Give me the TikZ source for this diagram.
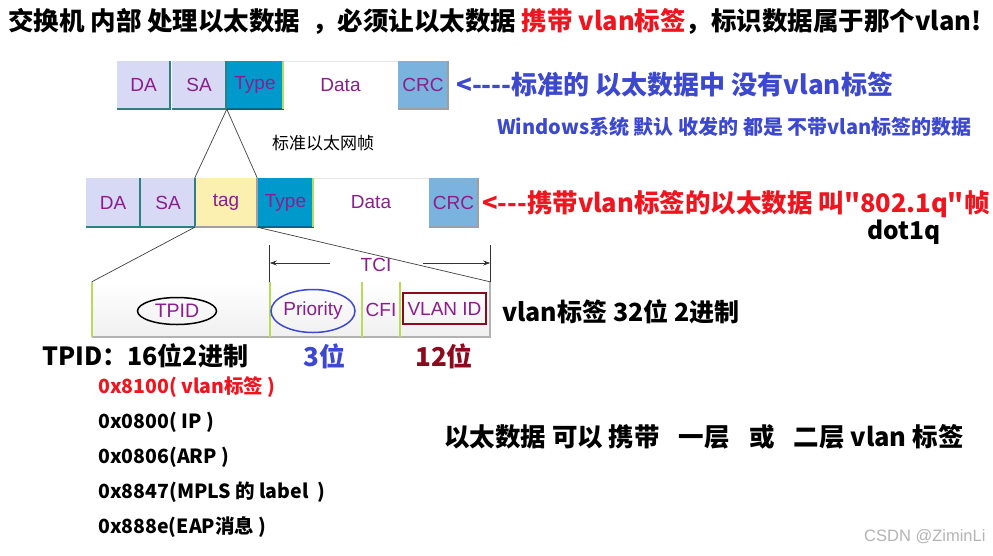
\documentclass[tikz,border=0pt]{standalone}
\usepackage{fontspec}
\setmainfont{Liberation Sans}
\newfontfamily\cjk{Noto Sans CJK SC}
\usetikzlibrary{shapes.geometric,arrows.meta}
\definecolor{lav}{HTML}{D8D9F5}
\definecolor{tealedge}{HTML}{2F8080}
\definecolor{typeblue}{HTML}{0099CC}
\definecolor{typeedge}{HTML}{00668A}
\definecolor{crcblue}{HTML}{7AB4DE}
\definecolor{grayedge}{HTML}{9AA0A6}
\definecolor{tagyel}{HTML}{FBF0B0}
\definecolor{greenedge}{HTML}{B8DC5A}
\definecolor{lblpurple}{HTML}{8B1E8C}
\definecolor{txtblue}{HTML}{3C48D0}
\definecolor{txtred}{HTML}{F0141E}
\definecolor{darkred}{HTML}{8B0A1E}
\definecolor{wmgray}{HTML}{B4B4B4}
\tikzset{
  cell/.style={rectangle, inner sep=0, text=lblpurple, font=\fontsize{19}{22}\selectfont},
  cell3/.style={cell, top color=white, bottom color=black!6, font=\fontsize{19}{22}\selectfont},
  txt/.style={inner sep=0, anchor=west, font=\cjk\bfseries\fontsize{#1}{#1}\selectfont},
  thinline/.style={draw=black!75, line width=0.7},
}
\newcommand\bevel[2]{\draw[#2, line width=2] (#1.south west) -- (#1.south east) -- (#1.north east);}
\newcommand\greenleft[1]{\draw[greenedge, line width=2] (#1.south west) -- (#1.north west);}
\begin{document}
\begin{tikzpicture}[x=1pt,y=-1pt]
\useasboundingbox[fill=white] (0,0) rectangle (993,555);
% title
\node[txt=25.5] (title) at (8,21) {交换机 内部 处理以太数据 \ ，必须让以太数据 \textcolor{txtred}{携带 vlan标签}，标识数据属于那个vlan!};
% row 1
\node[cell, fill=lav, minimum width=53, minimum height=48] (da1) at (143.5,85) {DA};
\node[cell, fill=lav, minimum width=54, minimum height=48] (sa1) at (199,85) {SA};
\node[cell, fill=typeblue, minimum width=56, minimum height=48] (ty1) at (255,85) {Type};
\node[cell, fill=white, minimum width=115, minimum height=48] (dt1) at (340.5,85) {Data};
\node[cell, fill=crcblue, minimum width=50, minimum height=48] (crc1) at (423,85) {CRC};
\bevel{da1}{tealedge}\bevel{sa1}{tealedge}\bevel{ty1}{typeedge}\bevel{crc1}{grayedge}
\draw[black!10] (dt1.north west) -- (dt1.north east);
\greenleft{dt1}
% row 2
\node[cell, fill=lav, minimum width=54, minimum height=49] (da2) at (113,202.5) {DA};
\node[cell, fill=lav, minimum width=54, minimum height=49] (sa2) at (168,202.5) {SA};
\node[cell, fill=tagyel, minimum width=62, minimum height=49] (tag2) at (226,202.5) {tag};
\node[cell, fill=typeblue, minimum width=55, minimum height=49] (ty2) at (285.5,202.5) {Type};
\node[cell, fill=white, minimum width=116, minimum height=49] (dt2) at (371,202.5) {Data};
\node[cell, fill=crcblue, minimum width=49, minimum height=49] (crc2) at (453.5,202.5) {CRC};
\bevel{da2}{tealedge}\bevel{sa2}{tealedge}\bevel{tag2}{grayedge}\bevel{ty2}{typeedge}\bevel{crc2}{grayedge}
\draw[black!10] (dt2.north west) -- (dt2.north east);
\greenleft{dt2}
% connectors row1 -> row2
\draw[thinline] (ty1.south west) -- (tag2.north west);
\draw[thinline] (ty1.south west) -- (tag2.north east);
\node[inner sep=0, font=\cjk\fontsize{17}{17}\selectfont, anchor=west] (stdlbl) at (272,143) {标准以太网帧};
% row 3
\node[cell3, minimum width=178, minimum height=55] (tpid) at (181,309.5) {};
\node[cell3, minimum width=92, minimum height=55] (prio) at (316,309.5) {};
\node[cell3, minimum width=38, minimum height=55] (cfi) at (381,309.5) {CFI};
\node[cell3, minimum width=90, minimum height=55] (vid) at (445,309.5) {};
\foreach \c in {tpid,prio,cfi,vid}{\bevel{\c}{black!30}\greenleft{\c}}
\node[draw=black, line width=1.5, ellipse, inner sep=0, minimum width=79, minimum height=27, text=lblpurple, font=\fontsize{19.5}{22}\selectfont] (tpidl) at (177,311) {TPID};
\node[draw=txtblue, line width=1.5, ellipse, inner sep=0, minimum width=84, minimum height=43, text=lblpurple, font=\fontsize{19}{22}\selectfont] (priol) at (313,311) {Priority};
\node[draw=darkred, line width=2, rectangle, inner sep=0, minimum width=83, minimum height=31, text=lblpurple, font=\fontsize{19}{22}\selectfont] (vidl) at (444.5,308.5) {VLAN ID};
% connectors row2 -> row3
\draw[thinline] (tag2.south west) -- (tpid.north west);
\draw[thinline] (tag2.south east) -- (vid.north east);
% TCI
\coordinate (tciL) at (prio.north west |- 0,245);
\coordinate (tciR) at (vid.north east |- 0,245);
\draw[black!80, line width=0.8] (prio.north west) -- (tciL);
\draw[black!80, line width=0.8] (vid.north east) -- (tciR);
\node[inner sep=0, text=lblpurple, font=\fontsize{19}{22}\selectfont] (tci) at (376,265) {TCI};
\coordinate (tcia) at (330,263);
\coordinate (tcib) at (423,263);
\draw[black!80, line width=0.8, -{Stealth[length=7,width=5]}] (tcia) -- (tcia -| tciL);
\draw[black!80, line width=0.8, -{Stealth[length=7,width=5]}] (tcib) -- (tcib -| tciR);
% right texts
\node[txt=26, text=txtblue] (t1) at (456,85) {<{-}{-}{-}{-}标准的 以太数据中 没有vlan标签};
\node[txt=20, text=txtblue] (t2) at (497,127) {Windows系统 默认 收发的 都是 不带vlan标签的数据};
\node[txt=25.5, text=txtred] (t3) at (482,204) {<{-}{-}{-}携带vlan标签的以太数据 叫"802.1q"帧};
\node[txt=24.5, text=black] (t4) at (867,232) {dot1q};
\node[txt=25, text=black] (t5) at (502,312) {vlan标签 32位 2进制};
\node[txt=25, text=black] (t6) at (42,356) {TPID：16位2进制};
\node[txt=26, text=txtblue] (t7) at (303,356) {3位};
\node[txt=26, text=darkred] (t8) at (415,356) {12位};
\node[txt=19.5, text=txtred] (l1) at (98,387) {0x8100( vlan标签 )};
\node[txt=19.5] (l2) at (98,422) {0x0800( IP )};
\node[txt=19.5] (l3) at (98,457) {0x0806(ARP )};
\node[txt=19.5] (l4) at (98,492) {0x8847(MPLS 的 label \ )};
\node[txt=19.5] (l5) at (98,527) {0x888e(EAP消息 )};
\node[txt=25.5] (t9) at (444,437) {以太数据 可以 携带\hspace{0.75em}一层\hspace{0.75em}或\hspace{0.75em}二层 vlan 标签};
\node[inner sep=0, anchor=west, text=wmgray, font=\fontsize{16.5}{16.5}\selectfont] (wm) at (864,537) {CSDN @ZiminLi};
\end{tikzpicture}
\end{document}
